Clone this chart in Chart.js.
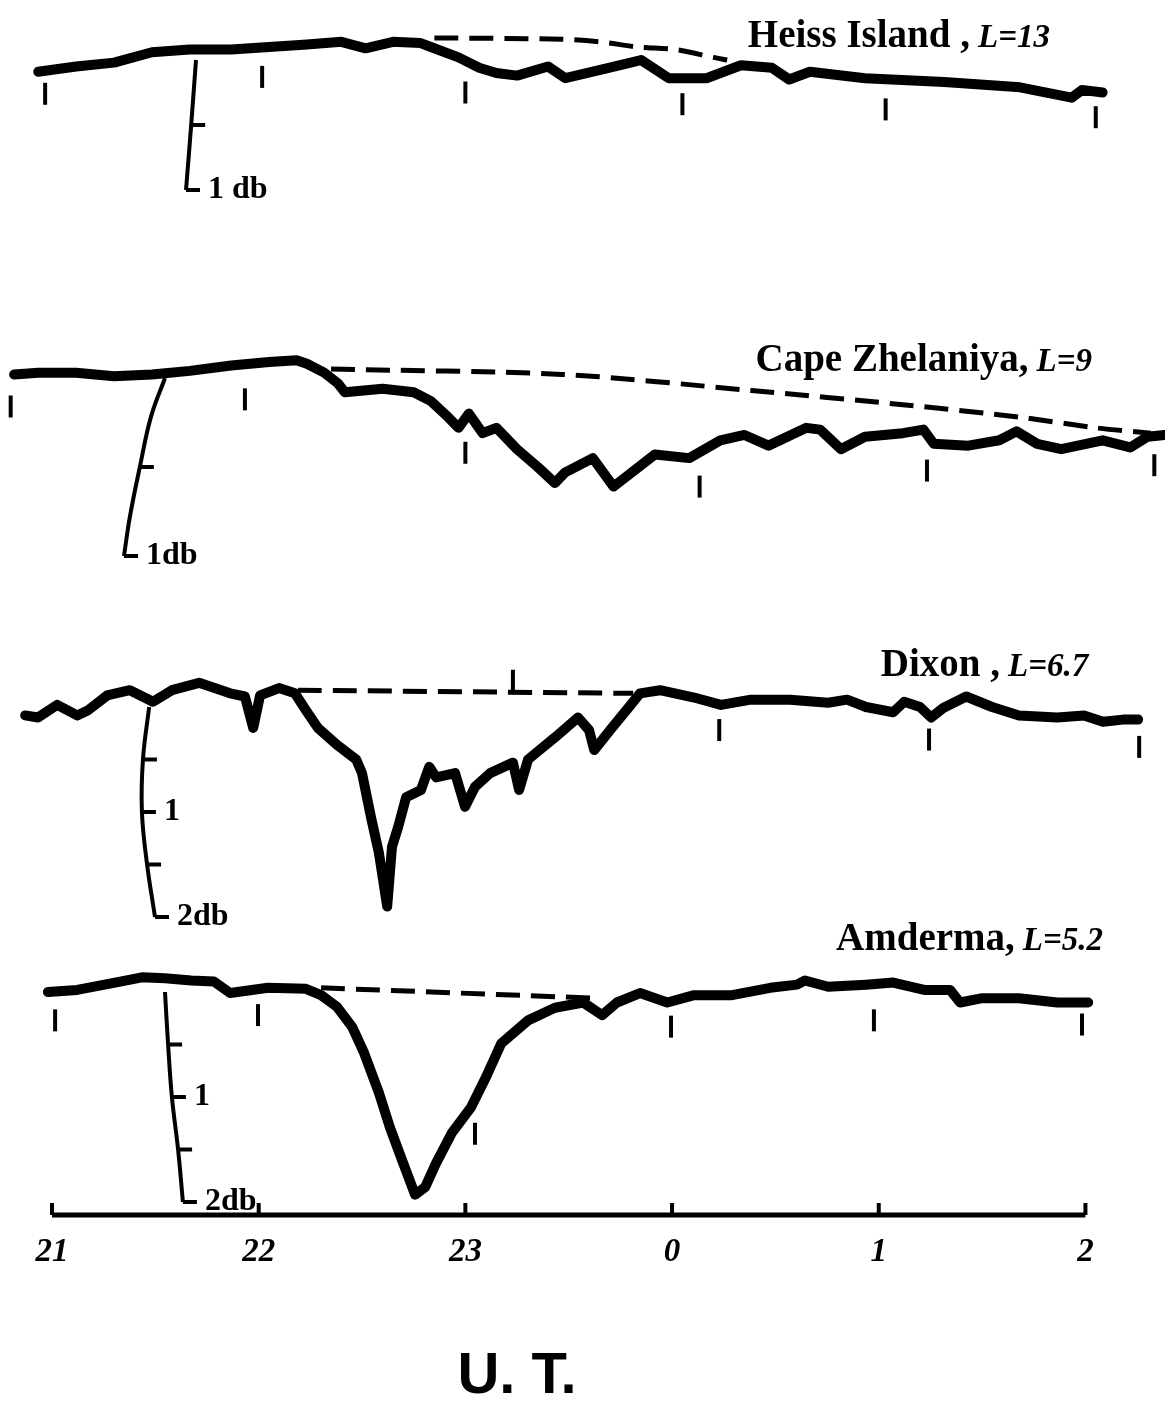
<!DOCTYPE html>
<html>
<head>
<meta charset="utf-8">
<title>Riometer absorption at four stations</title>
<script src="https://cdn.jsdelivr.net/npm/chart.js@4"></script>
<style>
  body { margin: 0; background: #fff; }
  canvas { display: block; }
</style>
</head>
<body>
<canvas id="chart" width="1165" height="1405"></canvas>
<script>
// time is in minutes after 21:00 UT
const hourTicks = [0, 60, 120, 180, 240, 300];
const hourLabels = ['21', '22', '23', '0', '1', '2'];

const stationLabels = ['Heiss Island ,', 'Cape Zhelaniya,', 'Dixon ,', 'Amderma,'];
const stationL = ['13', '9', '6.7', '5.2'];

// ---------------- Heiss Island, L=13 ----------------
const heissTime = [-4, 7, 18, 29, 40, 52, 63, 74, 84, 91, 99, 107, 110, 118, 124, 129, 135, 144, 149, 157, 168, 171, 179, 190, 200, 209, 214, 220, 236, 259, 281, 296, 299, 305];
const heissDb = [0.09, 0.05, 0.02, -0.06, -0.08, -0.08, -0.10, -0.12, -0.14, -0.09, -0.14, -0.13, -0.10, -0.02, 0.06, 0.10, 0.12, 0.05, 0.14, 0.09, 0.02, 0.00, 0.14, 0.14, 0.04, 0.06, 0.15, 0.09, 0.14, 0.17, 0.21, 0.29, 0.23, 0.25];
const heissQuietTime = [111, 148, 159, 170, 181, 192, 196];
const heissQuietDb = [-0.17, -0.16, -0.14, -0.10, -0.08, -0.02, 0.00];
const heissMarkTime = [-2, 61, 120, 183, 242, 303];
const heissMarkDb = [0.26, 0.13, 0.25, 0.34, 0.38, 0.44];
const heissCalTime = [41.8, 40.4, 38.9];
const heissCalDb = [0, 0.5, 1];

// ---------------- Cape Zhelaniya, L=9 ----------------
const capeTime = [-11, -4, 7, 18, 29, 40, 52, 63, 71, 74, 79, 83, 85, 96, 105, 110, 115, 118, 121, 125, 129, 135, 141, 146, 149, 157, 163, 175, 185, 194, 201, 208, 219, 223, 229, 236, 247, 253, 256, 266, 275, 280, 286, 293, 305, 313, 318, 323];
const capeDb = [-0.02, -0.03, -0.03, -0.01, -0.02, -0.04, -0.07, -0.09, -0.10, -0.08, -0.03, 0.03, 0.08, 0.06, 0.08, 0.13, 0.22, 0.28, 0.20, 0.31, 0.28, 0.40, 0.50, 0.59, 0.53, 0.45, 0.61, 0.43, 0.45, 0.35, 0.32, 0.38, 0.28, 0.29, 0.40, 0.33, 0.31, 0.29, 0.37, 0.38, 0.35, 0.30, 0.37, 0.40, 0.35, 0.39, 0.33, 0.32];
const capeQuietTime = [81, 148, 203, 247, 281, 303, 319];
const capeQuietDb = [-0.05, -0.02, 0.07, 0.15, 0.22, 0.28, 0.31];
const capeMarkTime = [-12, 56, 120, 188, 254, 320];
const capeMarkDb = [0.16, 0.12, 0.42, 0.61, 0.52, 0.49];
const capeCalTime = [32.8, 28.7, 25.5, 22.6, 20.9];
const capeCalDb = [0, 0.22, 0.5, 0.78, 1];

// ---------------- Dixon, L=6.7 ----------------
const dixonTime = [-7.8, -4.1, 1.5, 7.3, 10.5, 16.0, 22.6, 29.3, 34.8, 42.7, 51.7, 56.0, 58.4, 60.4, 65.9, 70.5, 73.7, 77.2, 82.7, 88.3, 90.0, 92.6, 94.9, 97.3, 98.7, 100.5, 102.8, 107.1, 109.5, 111.5, 117.0, 119.9, 122.8, 127.2, 133.8, 135.6, 138.2, 146.0, 152.7, 155.9, 157.4, 162.0, 167.5, 170.7, 176.5, 186.4, 194.2, 202.9, 214.3, 225.3, 230.8, 236.3, 244.2, 247.4, 252.0, 255.2, 258.7, 265.4, 272.9, 280.7, 291.8, 299.6, 305.1, 310.9, 315.3];
const dixonDb = [0.08, 0.10, -0.02, 0.08, 0.03, -0.11, -0.16, -0.05, -0.16, -0.23, -0.13, -0.10, 0.20, -0.11, -0.18, -0.13, 0.03, 0.20, 0.36, 0.50, 0.63, 1.05, 1.39, 1.90, 1.33, 1.14, 0.86, 0.79, 0.57, 0.67, 0.63, 0.95, 0.76, 0.63, 0.53, 0.79, 0.50, 0.29, 0.10, 0.22, 0.41, 0.22, 0.00, -0.13, -0.16, -0.09, -0.02, -0.07, -0.07, -0.04, -0.07, 0.00, 0.05, -0.05, 0.00, 0.10, 0.01, -0.10, 0.00, 0.08, 0.10, 0.08, 0.14, 0.12, 0.12];
const dixonQuietTime = [71.4, 168.7];
const dixonQuietDb = [-0.16, -0.13];
const dixonMarkTime = [133.8, 193.7, 254.6, 315.6];
const dixonMarkDb = [-0.25, 0.22, 0.31, 0.38];
const dixonCalTime = [28.2, 26.4, 26.1, 27.6, 29.9];
const dixonCalDb = [0, 0.5, 1, 1.5, 2];

// ---------------- Amderma, L=5.2 ----------------
const amdermaTime = [-1.2, 7.3, 18.3, 26.1, 32.8, 40.4, 47.0, 51.7, 62.7, 73.7, 78.1, 82.7, 87.1, 90.6, 94.9, 98.1, 101.6, 105.4, 108.3, 111.5, 116.1, 121.6, 126.0, 130.4, 138.2, 146.0, 154.2, 159.7, 164.0, 170.7, 178.6, 186.4, 197.4, 208.5, 216.3, 218.6, 225.3, 236.3, 244.2, 253.2, 260.7, 263.6, 269.7, 280.7, 291.8, 300.8];
const amdermaDb = [0.00, -0.02, -0.09, -0.14, -0.13, -0.11, -0.10, 0.01, -0.04, -0.03, 0.03, 0.14, 0.33, 0.58, 0.96, 1.29, 1.60, 1.93, 1.86, 1.63, 1.34, 1.10, 0.81, 0.49, 0.27, 0.15, 0.10, 0.22, 0.10, 0.01, 0.10, 0.03, 0.03, -0.04, -0.07, -0.11, -0.05, -0.07, -0.09, -0.02, -0.02, 0.10, 0.06, 0.06, 0.10, 0.10];
const amdermaQuietTime = [78.1, 158.2];
const amdermaQuietDb = [-0.04, 0.06];
const amdermaMarkTime = [0.9, 59.8, 122.8, 179.7, 238.6, 299.0];
const amdermaMarkDb = [0.27, 0.22, 1.35, 0.33, 0.27, 0.31];
const amdermaCalTime = [32.8, 33.7, 34.8, 36.6, 38.0];
const amdermaCalDb = [0, 0.5, 1, 1.5, 2];

// calibration bar ticks and their labels (dB)
const calTickLevels = [[0.5, 1], [0.5, 1], [0.5, 1, 1.5, 2], [0.5, 1, 1.5, 2]];
const calLabelLevels = [[1], [1], [1, 2], [1, 2]];
const calLabelTexts = [['1 db'], ['1db'], ['1', '2db'], ['1', '2db']];

// where the station names sit (right edge time, baseline dB)
const labelTime = [289.7, 301.9, 300.8, 305.1];
const labelDb = [-0.10, -0.04, -0.30, -0.40];

// ---------------- layout ----------------
const plotHeight = 1215;      // time axis line
const xMin = -15.1, xMax = 323.1;
const panels = [
  { axis: 'yH', zeroPx: 60, pxPerDb: 130 },
  { axis: 'yC', zeroPx: 378, pxPerDb: 178 },
  { axis: 'yD', zeroPx: 707, pxPerDb: 105 },
  { axis: 'yA', zeroPx: 992, pxPerDb: 105 }
];

const series = [
  [heissTime, heissDb, heissQuietTime, heissQuietDb, heissMarkTime, heissMarkDb, heissCalTime, heissCalDb],
  [capeTime, capeDb, capeQuietTime, capeQuietDb, capeMarkTime, capeMarkDb, capeCalTime, capeCalDb],
  [dixonTime, dixonDb, dixonQuietTime, dixonQuietDb, dixonMarkTime, dixonMarkDb, dixonCalTime, dixonCalDb],
  [amdermaTime, amdermaDb, amdermaQuietTime, amdermaQuietDb, amdermaMarkTime, amdermaMarkDb, amdermaCalTime, amdermaCalDb]
];

const pairs = (xs, ys) => xs.map((x, i) => ({ x: x, y: ys[i] }));

const datasets = [];
series.forEach((s, i) => {
  const yAxisID = panels[i].axis;
  datasets.push({
    label: stationLabels[i] + ' record', data: pairs(s[0], s[1]), yAxisID,
    borderColor: '#000', borderWidth: 10, pointRadius: 0, tension: 0,
    borderJoinStyle: 'round', borderCapStyle: 'round'
  });
  datasets.push({
    label: stationLabels[i] + ' quiet day', data: pairs(s[2], s[3]), yAxisID,
    borderColor: '#000', borderWidth: 5, borderDash: [24, 11], pointRadius: 0, tension: 0.3
  });
  datasets.push({
    label: stationLabels[i] + ' hour marks', data: pairs(s[4], s[5]), yAxisID,
    showLine: false, pointStyle: 'line', pointRotation: 90, pointRadius: 11,
    pointBorderWidth: 4, pointBorderColor: '#000'
  });
  datasets.push({
    label: stationLabels[i] + ' calibration', data: pairs(s[6], s[7]), yAxisID,
    borderColor: '#000', borderWidth: 4, pointRadius: 0, tension: 0.4
  });
});

const scales = {
  x: {
    type: 'linear', min: xMin, max: xMax,
    grid: { display: false, drawTicks: false },
    border: { display: false },
    afterBuildTicks: (s) => { s.ticks = hourTicks.map(v => ({ value: v })); },
    afterFit: (s) => {
      s.height = 1405 - plotHeight;
      s.paddingLeft = 0;
      s.paddingRight = 0;
    },
    ticks: {
      autoSkip: false, maxRotation: 0, padding: 18, color: '#000',
      font: { family: 'Liberation Serif', size: 33, style: 'italic', weight: 'bold' },
      callback: (v) => hourLabels[hourTicks.indexOf(v)]
    }
  }
};
panels.forEach(p => {
  scales[p.axis] = {
    type: 'linear', display: false, reverse: true,
    min: -p.zeroPx / p.pxPerDb,
    max: (plotHeight - p.zeroPx) / p.pxPerDb
  };
});

// ---------------- text, axis line, calibration ticks ----------------
const figurePlugin = {
  id: 'figure',
  afterDatasetsDraw(chart) {
    const ctx = chart.ctx;
    const x = chart.scales.x;
    const area = chart.chartArea;
    ctx.save();
    ctx.strokeStyle = '#000';
    ctx.fillStyle = '#000';

    // time axis
    ctx.lineWidth = 5;
    ctx.beginPath();
    ctx.moveTo(x.getPixelForValue(hourTicks[0]), area.bottom);
    ctx.lineTo(x.getPixelForValue(hourTicks[hourTicks.length - 1]), area.bottom);
    ctx.stroke();
    ctx.lineWidth = 4;
    ctx.beginPath();
    hourTicks.forEach(t => {
      const px = x.getPixelForValue(t);
      ctx.moveTo(px, area.bottom);
      ctx.lineTo(px, area.bottom - 12);
    });
    ctx.stroke();

    // station names
    panels.forEach((p, i) => {
      const y = chart.scales[p.axis];
      const py = y.getPixelForValue(labelDb[i]);
      let right = x.getPixelForValue(labelTime[i]);
      ctx.textAlign = 'right';
      ctx.textBaseline = 'alphabetic';
      ctx.font = 'italic bold 33px "Liberation Serif"';
      const lText = 'L=' + stationL[i];
      ctx.fillText(lText, right, py);
      right -= ctx.measureText(lText).width + 8;
      ctx.font = 'bold 39px "Liberation Serif"';
      ctx.fillText(stationLabels[i], right, py);
    });

    // calibration ticks and labels
    ctx.lineWidth = 4;
    ctx.font = 'bold 32px "Liberation Serif"';
    ctx.textAlign = 'left';
    ctx.textBaseline = 'middle';
    panels.forEach((p, i) => {
      const y = chart.scales[p.axis];
      const calTime = series[i][6], calDb = series[i][7];
      calTickLevels[i].forEach(level => {
        const k = calDb.indexOf(level);
        const px = x.getPixelForValue(calTime[k]);
        const py = y.getPixelForValue(level);
        ctx.beginPath();
        ctx.moveTo(px, py);
        ctx.lineTo(px + 14, py);
        ctx.stroke();
        const li = calLabelLevels[i].indexOf(level);
        if (li >= 0) ctx.fillText(calLabelTexts[i][li], px + 22, py);
      });
    });

    // axis title
    ctx.font = 'bold 58px "Liberation Sans"';
    ctx.textAlign = 'center';
    ctx.textBaseline = 'alphabetic';
    ctx.fillText('U. T.', x.getPixelForValue(135), area.bottom + 178);
    ctx.restore();
  }
};

new Chart(document.getElementById('chart'), {
  type: 'line',
  data: { datasets },
  options: {
    responsive: false,
    animation: false,
    devicePixelRatio: 1,
    layout: { padding: 0, autoPadding: false },
    plugins: { legend: { display: false }, tooltip: { enabled: false } },
    scales
  },
  plugins: [figurePlugin]
});
</script>
</body>
</html>
